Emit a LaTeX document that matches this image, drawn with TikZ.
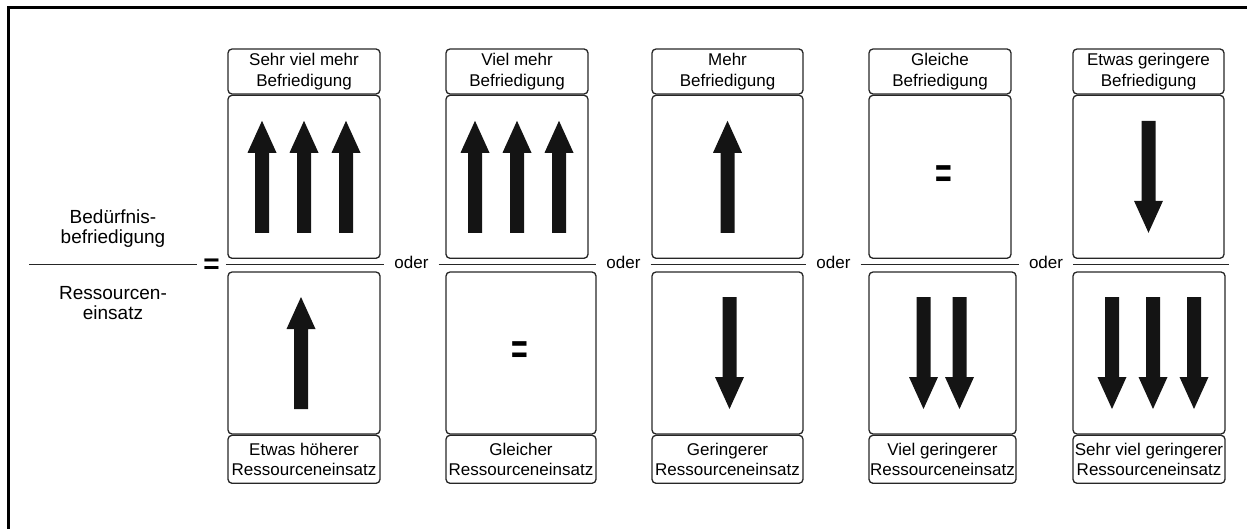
\documentclass[tikz,border=0pt]{standalone}
\usepackage{fontspec}
\setmainfont{Liberation Sans}
\usetikzlibrary{positioning}
\tikzstyle{capbox} = [draw=black!85, line width=1.3pt, rounded corners=4pt, inner sep=0pt, minimum height=45pt, align=center, font=\fontsize{17}{20.5}\selectfont]
\tikzstyle{signbox} = [draw=black!85, line width=1.3pt, rounded corners=4pt, inner sep=0pt, minimum height=163pt]
\tikzstyle{oder} = [anchor=base, inner xsep=10pt, inner ysep=0pt, font=\fontsize{17}{20}\selectfont]
\tikzstyle{term} = [align=center, font=\fontsize{19}{20}\selectfont]
\tikzstyle{eqsign} = [inner xsep=6pt, inner ysep=0pt, font=\fontsize{28}{28}\selectfont\bfseries]
\tikzstyle{boxeq} = [inner sep=0pt, font=\fontsize{30}{30}\selectfont\bfseries]
\tikzstyle{fracline} = [black!85, line width=1pt]
% fat block arrow, pointing up, centred on its middle
\tikzset{pics/fatarrow/.style={code={
  \fill[black!92] (-7,56) -- (-7,-24) -- (-14.5,-24) -- (0,-56) -- (14.5,-24) -- (7,-24) -- (7,56) -- cycle;}}}

\begin{document}
\begin{tikzpicture}[x=1pt, y=-1pt]
  \useasboundingbox (0,0) rectangle (1247,529);
  \draw[line width=3pt] (1247,8) -- (8,8) -- (8,529);
  \coordinate (axis) at (0,265);

  % left side: the fraction
  \node[term] (num) at (113,228.5) {Bedürfnis-\\befriedigung};
  \node[term] (den) at (113,303) {Ressourcen-\\einsatz};
  \coordinate (fl) at (29,265);
  \node[eqsign] (eq0) at (211.5,266) {=};
  \draw[fracline] (fl) -- (eq0.west |- axis);

  % column 1
  \node[capbox, minimum width=152] (top1) at (304,71.5) {Sehr viel mehr\\Befriedigung};
  \node[signbox, minimum width=152, below=0pt of top1] (up1) {};
  \node[signbox, minimum width=152, minimum height=162] (dn1) at (304,353) {};
  \node[capbox, minimum width=152, minimum height=48, below=0pt of dn1] (bot1) {Etwas höherer\\Ressourceneinsatz};
  \pic at ([xshift=-42pt]up1.center) {fatarrow};
  \pic at (up1.center) {fatarrow};
  \pic at ([xshift=42pt]up1.center) {fatarrow};
  \pic at ([xshift=-3pt]dn1.center) {fatarrow};
  \node[oder] (or1) at (411.5,268.5) {oder};
  \draw[fracline] (eq0.east |- axis) -- (or1.west |- axis);

  % column 2
  \node[capbox, minimum width=142] (top2) at (517,71.5) {Viel mehr\\Befriedigung};
  \node[signbox, minimum width=142, below=0pt of top2] (up2) {};
  \node[signbox, minimum width=150, minimum height=162] (dn2) at (521,353) {};
  \node[capbox, minimum width=150, minimum height=48, below=0pt of dn2] (bot2) {Gleicher\\Ressourceneinsatz};
  \pic at ([xshift=-42pt]up2.center) {fatarrow};
  \pic at (up2.center) {fatarrow};
  \pic at ([xshift=42pt]up2.center) {fatarrow};
  \node[boxeq] (eq2) at ([xshift=-1.5pt]dn2.center) {\scalebox{0.95}[1.4]{=}};
  \node[oder] (or2) at (623.5,268.5) {oder};
  \draw[fracline] (or1.east |- axis) -- (or2.west |- axis);

  % column 3
  \node[capbox, minimum width=151] (top3) at (727.5,71.5) {Mehr\\Befriedigung};
  \node[signbox, minimum width=151, below=0pt of top3] (up3) {};
  \node[signbox, minimum width=151, minimum height=162] (dn3) at (727.5,353) {};
  \node[capbox, minimum width=151, minimum height=48, below=0pt of dn3] (bot3) {Geringerer\\Ressourceneinsatz};
  \pic at (up3.center) {fatarrow};
  \pic[rotate=180] at ([xshift=2pt]dn3.center) {fatarrow};
  \node[oder] (or3) at (833.5,268.5) {oder};
  \draw[fracline] (or2.east |- axis) -- (or3.west |- axis);

  % column 4
  \node[capbox, minimum width=142] (top4) at (940,71.5) {Gleiche\\Befriedigung};
  \node[signbox, minimum width=142, below=0pt of top4] (up4) {};
  \node[signbox, minimum width=147, minimum height=162] (dn4) at (942.5,353) {};
  \node[capbox, minimum width=147, minimum height=48, below=0pt of dn4] (bot4) {Viel geringerer\\Ressourceneinsatz};
  \node[boxeq] (eq4) at ([xshift=4pt]up4.center) {\scalebox{0.95}[1.4]{=}};
  \pic[rotate=180] at ([xshift=-19pt]dn4.center) {fatarrow};
  \pic[rotate=180] at ([xshift=17pt]dn4.center) {fatarrow};
  \node[oder] (or4) at (1046,268.5) {oder};
  \draw[fracline] (or3.east |- axis) -- (or4.west |- axis);

  % column 5
  \node[capbox, minimum width=151] (top5) at (1148.5,71.5) {Etwas geringere\\Befriedigung};
  \node[signbox, minimum width=151, below=0pt of top5] (up5) {};
  \node[signbox, minimum width=152, minimum height=162] (dn5) at (1149,353) {};
  \node[capbox, minimum width=152, minimum height=48, below=0pt of dn5] (bot5) {Sehr viel geringerer\\Ressourceneinsatz};
  \pic[rotate=180] at (up5.center) {fatarrow};
  \pic[rotate=180] at ([xshift=-37pt]dn5.center) {fatarrow};
  \pic[rotate=180] at ([xshift=4pt]dn5.center) {fatarrow};
  \pic[rotate=180] at ([xshift=45pt]dn5.center) {fatarrow};
  \coordinate (fr) at (1229,265);
  \draw[fracline] (or4.east |- axis) -- (fr);
\end{tikzpicture}
\end{document}
